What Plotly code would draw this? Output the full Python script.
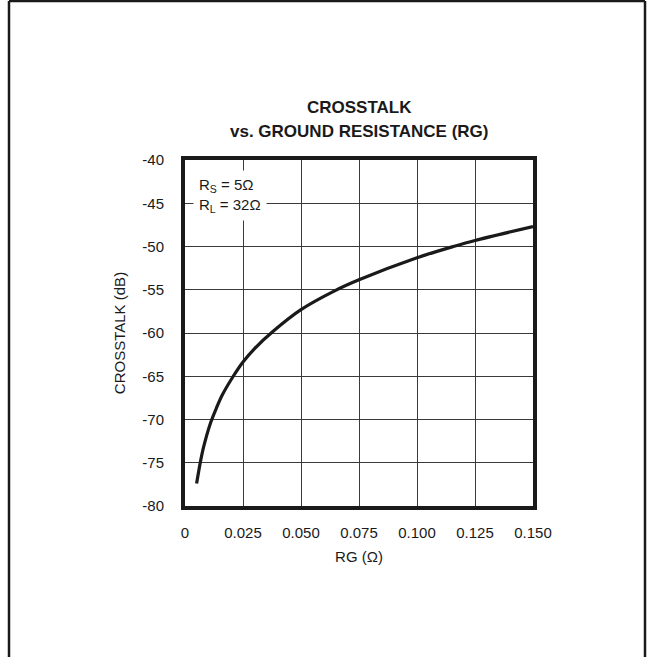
import plotly.graph_objects as go

# curve
rg_ohm = [0.005, 0.0065, 0.008, 0.011, 0.0135, 0.016, 0.0208, 0.025, 0.030,
          0.038, 0.050, 0.0647, 0.075, 0.100, 0.1157, 0.125, 0.150]
crosstalk_db = [-77.4, -75.1, -73.2, -70.4, -68.7, -67.2, -65.0, -63.35, -61.8,
                -59.8, -57.3, -55.1, -53.85, -51.3, -50.0, -49.3, -47.7]

x_ticks = [0, 0.025, 0.050, 0.075, 0.100, 0.125, 0.150]
x_tick_text = ['0', '0.025', '0.050', '0.075', '0.100', '0.125', '0.150']
y_ticks = [-80, -75, -70, -65, -60, -55, -50, -45, -40]
y_tick_text = ['-80', '-75', '-70', '-65', '-60', '-55', '-50', '-45', '-40']

FONT = 'Liberation Sans, Arial, sans-serif'
INK = '#1a1a1a'
W, H = 650, 657
L, R, T, B = 185, 117, 160, 151

fig = go.Figure()
fig.add_trace(go.Scatter(x=rg_ohm, y=crosstalk_db, mode='lines',
                         line=dict(color=INK, width=3.2, shape='spline', smoothing=0.8),
                         showlegend=False, hoverinfo='skip'))

pw, ph = W - L - R, H - T - B
def px(x):
    return (x - L) / pw
def py(y):
    return (H - B - y) / ph

# outer frame, open at the bottom
for x0, y0, x1, y1 in [(9, 1, 645, 1), (9, 1, 9, 657), (645, 1, 645, 657)]:
    fig.add_shape(type='line', xref='paper', yref='paper',
                  x0=px(x0), y0=py(y0), x1=px(x1), y1=py(y1),
                  line=dict(color=INK, width=2.5))

# two-line title
fig.add_annotation(text='<b>CROSSTALK</b>', xref='paper', yref='paper',
                   x=0.5, y=py(107), yanchor='middle', showarrow=False,
                   font=dict(family=FONT, size=17, color=INK))
fig.add_annotation(text='<b>vs. GROUND RESISTANCE (RG)</b>', xref='paper', yref='paper',
                   x=0.5, y=py(132), yanchor='middle', showarrow=False,
                   font=dict(family=FONT, size=17, color=INK))

fig.add_annotation(text='R<sub>S</sub> = 5Ω<br>R<sub>L</sub> = 32Ω', align='left',
                   xref='paper', yref='paper', x=px(193), y=py(170),
                   xanchor='left', yanchor='top', showarrow=False,
                   bgcolor='white', borderpad=5,
                   font=dict(family=FONT, size=15, color=INK))

fig.update_xaxes(range=[0, 0.150], tickvals=x_ticks, ticktext=x_tick_text,
                 showgrid=True, gridcolor='#3a3a3a', gridwidth=1,
                 showline=True, linecolor=INK, linewidth=4, mirror=True,
                 zeroline=False, ticks='', ticklabelstandoff=10,
                 title=dict(text='RG (Ω)', standoff=12,
                            font=dict(family=FONT, size=15, color=INK)),
                 tickfont=dict(family=FONT, size=15, color=INK))
fig.update_yaxes(range=[-80, -40], tickvals=y_ticks, ticktext=y_tick_text,
                 showgrid=True, gridcolor='#3a3a3a', gridwidth=1,
                 showline=True, linecolor=INK, linewidth=4, mirror=True,
                 zeroline=False, ticks='', ticklabelstandoff=14,
                 title=dict(text='CROSSTALK (dB)', standoff=14,
                            font=dict(family=FONT, size=15, color=INK)),
                 tickfont=dict(family=FONT, size=15, color=INK))

fig.update_layout(width=W, height=H, margin=dict(l=L, r=R, t=T, b=B),
                  paper_bgcolor='white', plot_bgcolor='white',
                  font=dict(family=FONT, color=INK))

# drop the page's default 8px body margin so the figure sits at the window corner
fig.write_html('out.html', config={'displayModeBar': False},
               post_script="document.body.style.margin='0';")
